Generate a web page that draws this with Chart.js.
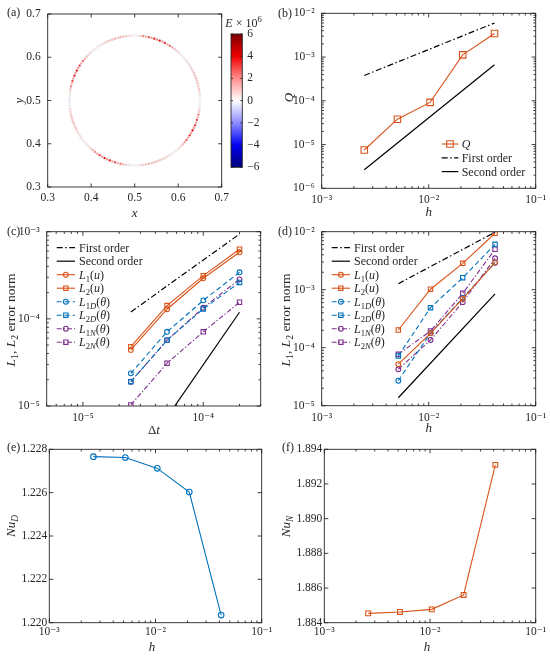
<!DOCTYPE html>
<html><head><meta charset="utf-8"><title>Convergence study</title>
<script src="https://cdn.jsdelivr.net/npm/chart.js@4.4.1/dist/chart.umd.min.js"></script>
<style>html,body{margin:0;padding:0;background:#fff}body{width:550px;height:656px;position:relative;overflow:hidden}</style>
</head><body>
<script>
// ---------------- data ----------------
// (a) energy E (x1e6) on ring markers, every 2.5 deg starting at 0 deg, counter-clockwise
const ringAngleStepDeg = 2.5;
const ringCenter = [0.5, 0.5];
const ringRadius = 0.15;
const ringE = [
 0.0,0.2,0.4,0.6,0.8,1.0,1.1,0.9,1.2,1.0,1.1,0.8,0.7,0.6,0.5,0.4,0.3,0.2,0.3,0.5,0.8,1.2,1.6,2.6,1.5,3.4,1.8,4.2,2.0,3.6,1.7,2.9,1.4,2.2,0.9,0.3,
 0.0,0.3,0.6,0.9,1.1,1.3,1.0,1.4,1.1,1.2,0.9,0.7,0.5,0.4,0.3,0.2,0.3,0.5,0.7,1.1,1.5,2.4,1.4,3.3,1.7,4.0,1.9,3.5,1.6,3.0,1.3,2.1,1.0,0.5,0.2,-0.2,
 -0.4,-0.1,0.3,0.6,0.8,1.0,1.2,0.9,1.3,1.0,1.1,0.8,0.6,0.5,0.4,0.3,0.2,0.3,0.5,0.8,1.3,2.0,1.5,3.2,1.8,4.3,2.1,3.7,1.6,3.1,1.4,2.4,1.1,0.8,0.4,0.1,
 -0.1,0.2,0.5,0.8,1.0,1.2,1.0,1.3,1.1,1.0,0.9,0.7,0.5,0.4,0.3,0.2,0.3,0.5,0.8,1.2,1.7,2.5,1.6,3.4,1.9,4.1,2.0,3.6,1.5,3.0,1.3,2.3,1.0,0.6,0.3,0.0
];
const xyTicks = [0.3, 0.4, 0.5, 0.6, 0.7];
const cmapE = [-6, -4, -2, 0, 2, 4, 6];
const cmapColors = ['#00007a', '#0000f0', '#8c8cff', '#ffffff', '#ff8c8c', '#f00000', '#7a0000'];
const colorbarTicks = [-6, -4, -2, 0, 2, 4, 6];

// (b) Q versus h
const hB = [0.0025, 0.0051, 0.0103, 0.0208, 0.0412];
const qValues = [7.5e-6, 3.8e-5, 9.2e-5, 1.12e-3, 3.45e-3];
const orderHB = [0.0025, 0.0412];
const firstOrderB = [3.8e-4, 6.0e-3];
const secondOrderB = [2.65e-6, 6.7e-4];

// (c) errors versus time step
const dtC = [2.5e-5, 5e-5, 1e-4, 2e-4];
const cL1u = [4.4e-5, 1.29e-4, 2.92e-4, 5.8e-4];
const cL2u = [4.8e-5, 1.42e-4, 3.13e-4, 6.3e-4];
const cL1D = [2.37e-5, 7.1e-5, 1.63e-4, 3.42e-4];
const cL2D = [1.9e-5, 5.7e-5, 1.3e-4, 2.62e-4];
const cL1N = [1.9e-5, 5.7e-5, 1.34e-4, 2.84e-4];
const cL2N = [1.03e-5, 3.09e-5, 7.1e-5, 1.55e-4];
const orderDtC = [2.5e-5, 2e-4];
const firstOrderC = [1.2e-4, 9.4e-4];
const secondOrderC = [1.86e-6, 1.19e-4];

// (d) errors versus h
const hD = [0.0052, 0.0104, 0.0208, 0.0417];
const dL1u = [5.2e-5, 1.77e-4, 7.0e-4, 2.95e-3];
const dL2u = [2.02e-4, 1.02e-3, 2.85e-3, 9.4e-3];
const dL1D = [2.7e-5, 1.8e-4, 7.2e-4, 2.92e-3];
const dL2D = [7.2e-5, 4.9e-4, 1.61e-3, 6.06e-3];
const dL1N = [4.25e-5, 1.36e-4, 6.1e-4, 3.48e-3];
const dL2N = [7.7e-5, 1.94e-4, 8.67e-4, 4.98e-3];
const orderHD = [0.0052, 0.0417];
const firstOrderD = [1.27e-3, 9.8e-3];
const secondOrderD = [1.37e-5, 8.5e-4];

// (e), (f) Nusselt numbers versus h
const hEF = [0.0026, 0.0052, 0.0104, 0.0208, 0.0415];
const nuD = [1.22766, 1.22762, 1.22712, 1.22603, 1.22035];
const nuN = [1.88454, 1.88462, 1.88477, 1.88560, 1.89310];
const nuDTicks = [1.220, 1.222, 1.224, 1.226, 1.228];
const nuNTicks = [1.884, 1.886, 1.888, 1.890, 1.892, 1.894];

// ---------------- styling helpers ----------------
const FONT = '"Liberation Serif", "DejaVu Serif", serif';
const INK = '#262626';
const ORANGE = '#D95319', BLUE = '#0072BD', PURPLE = '#7E2F8E', BLACK = '#000000';
const DASH = [5, 3], DASHDOT = [5, 2, 1.3, 2], BDASHDOT = [6, 2.5, 1.5, 2.5];
Chart.defaults.font.family = FONT;

const SUP = {'-':'⁻','0':'⁰','1':'¹','2':'²','3':'³','4':'⁴','5':'⁵','6':'⁶','7':'⁷','8':'⁸','9':'⁹'};
function isPow10(v){ const l = Math.log10(v); return Math.abs(l - Math.round(l)) < 1e-6; }
function powLabel(v){ return isPow10(v) ? '10' + String(Math.round(Math.log10(v))).split('').map(c => SUP[c]).join('') : ''; }
function logTicks(min, max){
  const out = [];
  for (let e = Math.floor(Math.log10(min)) ; e <= Math.ceil(Math.log10(max)); e++)
    for (let m = 1; m < 10; m++){ const v = m * Math.pow(10, e); if (v >= min*0.999 && v <= max*1.001) out.push(v); }
  return out;
}
function hexToRgb(h){ return [parseInt(h.slice(1,3),16), parseInt(h.slice(3,5),16), parseInt(h.slice(5,7),16)]; }
function cmap(e){
  if (e <= cmapE[0]) return cmapColors[0];
  for (let i = 1; i < cmapE.length; i++){
    if (e <= cmapE[i]){
      const t = (e - cmapE[i-1]) / (cmapE[i] - cmapE[i-1]);
      const a = hexToRgb(cmapColors[i-1]), b = hexToRgb(cmapColors[i]);
      return 'rgb(' + a.map((c,k) => Math.round(c + (b[k]-c)*t)).join(',') + ')';
    }
  }
  return cmapColors[cmapColors.length-1];
}
function pts(xs, ys){ return xs.map((x, i) => ({x, y: ys[i]})); }

function noPad(s){ s.paddingLeft = 0; s.paddingRight = 0; s.paddingTop = 0; s.paddingBottom = 0; }
function tickFont(){ return {family: FONT, size: 11.5}; }
function logAxis(min, max, size, pad, horiz){
  return {type:'logarithmic', min, max, bounds:'data',
    grid:{display:false, drawTicks:false}, border:{display:false},
    ticks:{autoSkip:false, maxRotation:0, minRotation:0, padding:pad, color:INK, font:tickFont(), callback:(v) => powLabel(v)},
    afterBuildTicks:(s) => { s.ticks = logTicks(min, max).map(v => ({value:v})); },
    afterFit:(s) => { if (horiz) s.height = size; else s.width = size; noPad(s); }};
}
function linAxis(min, max, ticks, dec, size, pad, horiz, pos){
  return {type:'linear', min, max, bounds:'data', position: pos,
    grid:{display:false, drawTicks:false}, border:{display:false},
    ticks:{autoSkip:false, maxRotation:0, minRotation:0, padding:pad, color:INK, font:tickFont(),
      callback:(v) => (v < 0 ? '−' : '') + Math.abs(v).toFixed(dec)},
    afterBuildTicks:(s) => { s.ticks = ticks.map(v => ({value:v})); },
    afterFit:(s) => { if (horiz) s.height = size; else s.width = size; noPad(s); }};
}
function series(xs, ys, color, o){
  o = o || {};
  return {data: pts(xs, ys), showLine:true, borderColor:color, borderWidth:o.lw || 1.1, borderDash:o.dash || [],
    pointStyle:o.marker || 'circle', pointRadius:o.marker ? o.r : 0, pointBorderColor:color,
    pointBackgroundColor:'rgba(0,0,0,0)', pointBorderWidth:o.lw || 1.1, tension:0, fill:false};
}

// rich text with italic / sub / superscript segments
function drawRich(ctx, segs, x, y, o){
  const size = o.size || 12;
  let w = 0;
  const parts = segs.map(s => {
    const sz = (s.sub || s.sup) ? size * 0.72 : size;
    const font = (s.it ? 'italic ' : '') + sz + 'px ' + FONT;
    ctx.font = font;
    const wd = ctx.measureText(s.t).width;
    const p = {t:s.t, font, dx:w, dy: s.sub ? size*0.25 : (s.sup ? -size*0.38 : 0)};
    w += wd;
    return p;
  });
  ctx.save();
  ctx.translate(x, y);
  if (o.rot) ctx.rotate(o.rot);
  const x0 = o.align === 'left' ? 0 : (o.align === 'right' ? -w : -w/2);
  ctx.fillStyle = o.color || INK;
  ctx.textAlign = 'left';
  ctx.textBaseline = 'alphabetic';
  const base = size * 0.33;
  parts.forEach(p => { ctx.font = p.font; ctx.fillText(p.t, x0 + p.dx, base + p.dy); });
  ctx.restore();
}
function drawMarker(ctx, m, x, y, r){
  ctx.beginPath();
  if (m === 'circle') ctx.arc(x, y, r, 0, 2*Math.PI);
  else { const s = r * Math.SQRT1_2; ctx.rect(x - s, y - s, 2*s, 2*s); }
  ctx.stroke();
}

const framePlugin = {id:'frame', afterDatasetsDraw(chart, args, o){
  const ctx = chart.ctx, a = chart.chartArea;
  ctx.save();
  ctx.strokeStyle = INK; ctx.lineWidth = 0.9; ctx.setLineDash([]);
  ctx.strokeRect(a.left, a.top, a.right - a.left, a.bottom - a.top);
  ['x','y'].forEach(id => {
    const s = chart.scales[id];
    if (!s || (o.skip && o.skip.indexOf(id) >= 0)) return;
    const log = s.type === 'logarithmic';
    s.ticks.forEach(t => {
      const v = t.value;
      if (log ? (v < s.min*(1-1e-6) || v > s.max*(1+1e-6)) : (v < s.min-1e-9 || v > s.max+1e-9)) return;
      const L = (!log || isPow10(v)) ? (o.major || 4) : (o.minor || 2.2);
      const p = s.getPixelForValue(v);
      ctx.beginPath();
      if (id === 'x'){ ctx.moveTo(p, a.bottom); ctx.lineTo(p, a.bottom - L); ctx.moveTo(p, a.top); ctx.lineTo(p, a.top + L); }
      else { ctx.moveTo(a.left, p); ctx.lineTo(a.left + L, p); ctx.moveTo(a.right, p); ctx.lineTo(a.right - L, p); }
      ctx.stroke();
    });
  });
  ctx.restore();
}};
const annotPlugin = {id:'annot', afterDraw(chart, args, o){
  const ctx = chart.ctx;
  const ox = o.ox || 0, oy = o.oy || 0;
  (o.texts || []).forEach(t => drawRich(ctx, t.segs, t.x - ox, t.y - oy, t));
  const L = o.legend;
  if (L){
    L.entries.forEach((e, i) => {
      const y = L.y0 + i*L.dy - oy, x0 = L.x0 - ox, x1 = L.x1 - ox;
      ctx.save();
      ctx.strokeStyle = e.color; ctx.lineWidth = e.lw || 1.1;
      ctx.setLineDash(e.dash || []);
      ctx.beginPath(); ctx.moveTo(x0, y); ctx.lineTo(x1, y); ctx.stroke();
      ctx.setLineDash([]);
      if (e.marker) drawMarker(ctx, e.marker, (x0 + x1)/2, y, e.r);
      ctx.restore();
      drawRich(ctx, e.segs, L.tx - ox, y, {align:'left', size:L.size});
    });
  }
}};
Chart.register(framePlugin, annotPlugin);

// box: container (page px); plot: desired plot area (page px)
function makeChart(box, plot, yW, xH, yRight, config, frame, annot){
  const wrap = document.createElement('div');
  wrap.style.cssText = 'position:absolute;left:' + box.l + 'px;top:' + box.t + 'px;width:' + box.w + 'px;height:' + box.h + 'px';
  const cv = document.createElement('canvas');
  wrap.appendChild(cv);
  document.body.appendChild(wrap);
  const padding = {
    left: plot.l - box.l - (yRight ? 0 : yW),
    right: box.l + box.w - plot.r - (yRight ? yW : 0),
    top: plot.t - box.t,
    bottom: box.t + box.h - plot.b - xH
  };
  annot.ox = box.l; annot.oy = box.t;
  config.options = Object.assign({
    responsive:true, maintainAspectRatio:false, animation:false, events:[],
    layout:{padding, autoPadding:false},
    plugins:{legend:{display:false}, tooltip:{enabled:false}, frame, annot}
  }, config.options || {});
  return new Chart(cv, config);
}

const it = (t) => ({t, it:true});
const up = (t) => ({t});
const sub = (t, i) => ({t, sub:true, it:!!i});
const sup = (t) => ({t, sup:true});
const ROT = -Math.PI/2;

// ---------------- (a) ring energy ----------------
const ringPts = ringE.map((e, i) => {
  const th = i * ringAngleStepDeg * Math.PI / 180;
  return {x: ringCenter[0] + ringRadius*Math.cos(th), y: ringCenter[1] + ringRadius*Math.sin(th)};
});
makeChart({l:0, t:0, w:236, h:222}, {l:47.7, t:14, r:221.7, b:187}, 40, 20, false, {
  type:'scatter',
  data:{datasets:[{data:ringPts, showLine:false, pointRadius:1.15, pointBackgroundColor:ringE.map(cmap),
    pointBorderColor:'rgba(90,90,90,0.2)', pointBorderWidth:0.4}]},
  options:{scales:{x:linAxis(0.3, 0.7, xyTicks, 1, 20, 4, true), y:linAxis(0.3, 0.7, xyTicks, 1, 40, 7, false)}}
}, {major:3.5}, {texts:[
  {segs:[up('(a)')], x:7, y:12.5, align:'left', size:12},
  {segs:[it('x')], x:134.7, y:212.5, size:13},
  {segs:[it('y')], x:18.5, y:100.5, size:13, rot:ROT}
]});

// colorbar
makeChart({l:222, t:15, w:50, h:165}, {l:231, t:34, r:242.3, b:167.3}, 24, 0, true, {
  type:'bar',
  data:{labels:[''], datasets:[{data:[[cmapE[0], cmapE[cmapE.length-1]]], barPercentage:1, categoryPercentage:1, borderWidth:0,
    backgroundColor:(c) => {
      const a = c.chart.chartArea; if (!a) return '#fff';
      const g = c.chart.ctx.createLinearGradient(0, a.bottom, 0, a.top);
      cmapE.forEach((e, i) => g.addColorStop((e - cmapE[0]) / (cmapE[cmapE.length-1] - cmapE[0]), cmapColors[i]));
      return g;
    }}]},
  options:{scales:{x:{display:false}, y:linAxis(-6, 6, colorbarTicks, 0, 24, 5, false, 'right')}}
}, {skip:['x'], major:2}, {texts:[
  {segs:[it('E'), up(' × 10'), sup('6')], x:243.5, y:23, size:12}
]});

// ---------------- (b) Q ----------------
makeChart({l:275, t:0, w:275, h:222}, {l:321.7, t:13.3, r:535.7, b:188.3}, 40, 20, false, {
  type:'scatter',
  data:{datasets:[
    series(hB, qValues, ORANGE, {marker:'rect', r:4.6}),
    series(orderHB, firstOrderB, BLACK, {dash:BDASHDOT, lw:1.2}),
    series(orderHB, secondOrderB, BLACK, {lw:1.2})
  ]},
  options:{scales:{x:logAxis(1e-3, 1e-1, 20, 5, true), y:logAxis(1e-6, 1e-2, 40, 7, false)}}
}, {}, {texts:[
  {segs:[up('(b)')], x:278, y:13.5, align:'left', size:12},
  {segs:[it('h')], x:428.7, y:211.5, size:13},
  {segs:[it('Q')], x:289, y:97.5, size:13, rot:ROT}
], legend:{x0:441.7, x1:458.3, tx:461.7, y0:144, dy:13.8, size:12, entries:[
  {segs:[it('Q')], color:ORANGE, marker:'rect', r:4.6},
  {segs:[up('First order')], color:BLACK, dash:BDASHDOT, lw:1.2},
  {segs:[up('Second order')], color:BLACK, lw:1.2}
]}});

// legend entries shared by (c) and (d)
function errLegend(){
  return [
    {segs:[up('First order')], color:BLACK, dash:BDASHDOT, lw:1.2},
    {segs:[up('Second order')], color:BLACK, lw:1.2},
    {segs:[it('L'), sub('1'), up('('), it('u'), up(')')], color:ORANGE, marker:'circle', r:2.4},
    {segs:[it('L'), sub('2'), up('('), it('u'), up(')')], color:ORANGE, marker:'rect', r:3.1},
    {segs:[it('L'), sub('1'), sub('D', 1), up('('), it('θ'), up(')')], color:BLUE, dash:DASH, marker:'circle', r:2.4},
    {segs:[it('L'), sub('2'), sub('D', 1), up('('), it('θ'), up(')')], color:BLUE, dash:DASH, marker:'rect', r:3.1},
    {segs:[it('L'), sub('1'), sub('N', 1), up('('), it('θ'), up(')')], color:PURPLE, dash:DASHDOT, marker:'circle', r:2.4},
    {segs:[it('L'), sub('2'), sub('N', 1), up('('), it('θ'), up(')')], color:PURPLE, dash:DASHDOT, marker:'rect', r:3.1}
  ];
}
const errTitle = [it('L'), sub('1'), up(', '), it('L'), sub('2'), up(' error norm')];

// ---------------- (c) errors vs dt ----------------
makeChart({l:0, t:215, w:275, h:222}, {l:46.7, t:231.7, r:260.7, b:406}, 40, 18, false, {
  type:'scatter',
  data:{datasets:[
    series(dtC, cL1u, ORANGE, {marker:'circle', r:2.4}),
    series(dtC, cL2u, ORANGE, {marker:'rect', r:3.1}),
    series(dtC, cL1D, BLUE, {marker:'circle', r:2.4, dash:DASH}),
    series(dtC, cL2D, BLUE, {marker:'rect', r:3.1, dash:DASH}),
    series(dtC, cL1N, PURPLE, {marker:'circle', r:2.4, dash:DASHDOT}),
    series(dtC, cL2N, PURPLE, {marker:'rect', r:3.1, dash:DASHDOT}),
    series(orderDtC, firstOrderC, BLACK, {dash:BDASHDOT, lw:1.2}),
    series(orderDtC, secondOrderC, BLACK, {lw:1.2})
  ]},
  options:{scales:{x:logAxis(5e-6, 3e-4, 18, 5, true), y:logAxis(1e-5, 1e-3, 40, 7, false)}}
}, {}, {texts:[
  {segs:[up('(c)')], x:7, y:231, align:'left', size:12},
  {segs:[up('Δ'), it('t')], x:154, y:429.5, size:13},
  {segs:errTitle, x:10.5, y:320, size:13.5, rot:ROT}
], legend:{x0:56.7, x1:75, tx:79, y0:247.7, dy:13.5, size:12, entries:errLegend()}});

// ---------------- (d) errors vs h ----------------
makeChart({l:275, t:215, w:275, h:222}, {l:321.7, t:231.7, r:535.7, b:405.7}, 40, 18, false, {
  type:'scatter',
  data:{datasets:[
    series(hD, dL1u, ORANGE, {marker:'circle', r:2.4}),
    series(hD, dL2u, ORANGE, {marker:'rect', r:3.1}),
    series(hD, dL1D, BLUE, {marker:'circle', r:2.4, dash:DASH}),
    series(hD, dL2D, BLUE, {marker:'rect', r:3.1, dash:DASH}),
    series(hD, dL1N, PURPLE, {marker:'circle', r:2.4, dash:DASHDOT}),
    series(hD, dL2N, PURPLE, {marker:'rect', r:3.1, dash:DASHDOT}),
    series(orderHD, firstOrderD, BLACK, {dash:BDASHDOT, lw:1.2}),
    series(orderHD, secondOrderD, BLACK, {lw:1.2})
  ]},
  options:{scales:{x:logAxis(1e-3, 1e-1, 18, 5, true), y:logAxis(1e-5, 1e-2, 40, 7, false)}}
}, {}, {texts:[
  {segs:[up('(d)')], x:278, y:231, align:'left', size:12},
  {segs:[it('h')], x:428.7, y:428, size:13},
  {segs:errTitle, x:285.5, y:320, size:13.5, rot:ROT}
], legend:{x0:331.7, x1:350, tx:354, y0:247.7, dy:13.5, size:12, entries:errLegend()}});

// ---------------- (e) Nu_D ----------------
makeChart({l:0, t:430, w:275, h:226}, {l:49.3, t:449.3, r:261.7, b:622.7}, 40, 20, false, {
  type:'scatter',
  data:{datasets:[series(hEF, nuD, BLUE, {marker:'circle', r:2.8})]},
  options:{scales:{x:logAxis(1e-3, 1e-1, 20, 2, true), y:linAxis(1.220, 1.228, nuDTicks, 3, 40, 2, false)}}
}, {}, {texts:[
  {segs:[up('(e)')], x:7, y:446.7, align:'left', size:12},
  {segs:[it('h')], x:152, y:646.5, size:13},
  {segs:[it('Nu'), sub('D', 1)], x:10.5, y:526, size:13, rot:ROT}
]});

// ---------------- (f) Nu_N ----------------
makeChart({l:275, t:430, w:275, h:226}, {l:324.3, t:449.3, r:535.7, b:622.7}, 40, 20, false, {
  type:'scatter',
  data:{datasets:[series(hEF, nuN, ORANGE, {marker:'rect', r:3.4})]},
  options:{scales:{x:logAxis(1e-3, 1e-1, 20, 2, true), y:linAxis(1.884, 1.894, nuNTicks, 3, 40, 2, false)}}
}, {}, {texts:[
  {segs:[up('(f)')], x:282, y:446.7, align:'left', size:12},
  {segs:[it('h')], x:427, y:646.5, size:13},
  {segs:[it('Nu'), sub('N', 1)], x:285.5, y:526.5, size:13, rot:ROT}
]});
</script>
</body></html>
